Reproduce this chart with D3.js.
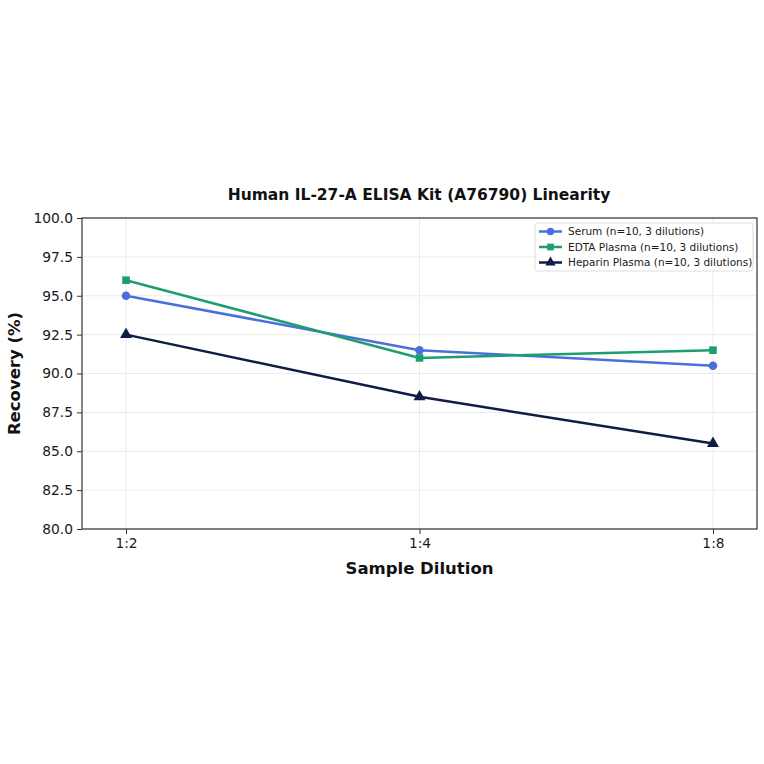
<!DOCTYPE html>
<html><head><meta charset="utf-8">
<script src="https://cdn.jsdelivr.net/npm/d3@7"></script>
<style>body{margin:0;background:#fff;} svg{display:block;font-family:"DejaVu Sans",sans-serif;}</style>
</head><body>
<svg id="c" width="764" height="764"></svg>
<script>
const categories = ["1:2", "1:4", "1:8"];
const serum = [95.0, 91.5, 90.5];
const edta = [96.0, 91.0, 91.5];
const heparin = [92.5, 88.5, 85.5];
const seriesNames = ["Serum (n=10, 3 dilutions)", "EDTA Plasma (n=10, 3 dilutions)", "Heparin Plasma (n=10, 3 dilutions)"];
const yTicks = [80.0, 82.5, 85.0, 87.5, 90.0, 92.5, 95.0, 97.5, 100.0];

const colors = ["#4a6fdc", "#1f9d72", "#0f1d45"];
const shapes = [d3.symbolCircle, d3.symbolSquare, d3.symbolTriangle];
const series = [serum, edta, heparin];

const svg = d3.select("#c");
const L = 82, R = 757, T = 218, B = 529;
const x = d3.scaleLinear().domain([-0.15, 2.15]).range([L, R]);
const y = d3.scaleLinear().domain([80, 100]).range([B, T]);

// grid
const g = svg.append("g");
g.selectAll(".gy").data(yTicks).enter().append("line")
  .attr("x1", L).attr("x2", R).attr("y1", d => y(d)).attr("y2", d => y(d))
  .attr("stroke", "#e6e6e6").attr("stroke-width", 0.8);
g.selectAll(".gx").data(categories).enter().append("line")
  .attr("x1", (d, i) => x(i)).attr("x2", (d, i) => x(i)).attr("y1", T).attr("y2", B)
  .attr("stroke", "#e6e6e6").attr("stroke-width", 0.8);

// axes
const yAxis = d3.axisLeft(y).tickValues(yTicks).tickFormat(d3.format(".1f")).tickSize(5).tickPadding(4);
const xAxis = d3.axisBottom(x).tickValues([0, 1, 2]).tickFormat(i => categories[i]).tickSize(5).tickPadding(4);
const ya = svg.append("g").attr("transform", `translate(${L},0)`).call(yAxis);
const xa = svg.append("g").attr("transform", `translate(0,${B})`).call(xAxis);
[ya, xa].forEach(a => {
  a.select(".domain").remove();
  a.selectAll("text").attr("font-size", 13.8).attr("fill", "#1a1a1a").attr("font-family", "DejaVu Sans");
  a.selectAll("line").attr("stroke", "#333").attr("stroke-width", 1);
});

// lines
const line = d3.line().x((d, i) => x(i)).y(d => y(d));
series.forEach((s, k) => {
  svg.append("path").datum(s).attr("d", line).attr("fill", "none")
    .attr("stroke", colors[k]).attr("stroke-width", 2.5);
  svg.selectAll(null).data(s).enter().append("path")
    .attr("d", d3.symbol().type(shapes[k]).size(k === 2 ? 62 : 58))
    .attr("transform", (d, i) => `translate(${x(i)},${y(d)})`)
    .attr("fill", colors[k]);
});

// frame
svg.append("rect").attr("x", L).attr("y", T).attr("width", R - L).attr("height", B - T)
  .attr("fill", "none").attr("stroke", "#333").attr("stroke-width", 1.2);

// legend
const lg = svg.append("g").attr("transform", "translate(535,223)");
lg.append("rect").attr("x", 0).attr("y", 0).attr("width", 218).attr("height", 48).attr("rx", 2.5)
  .attr("fill", "#fff").attr("fill-opacity", 0.85).attr("stroke", "#d6d6d6").attr("stroke-width", 0.8);
seriesNames.forEach((n, k) => {
  const yy = 8.5 + k * 15.5;
  lg.append("line").attr("x1", 4).attr("x2", 27).attr("y1", yy).attr("y2", yy)
    .attr("stroke", colors[k]).attr("stroke-width", 2.5);
  lg.append("path").attr("d", d3.symbol().type(shapes[k]).size(45)())
    .attr("transform", `translate(15.5,${yy})`).attr("fill", colors[k]);
  lg.append("text").attr("x", 33).attr("y", yy + 3.8).attr("font-size", 10.5).attr("fill", "#1a1a1a").text(n);
});

// title & labels
svg.append("text").attr("x", (L + R) / 2 - 0.5).attr("y", 200).attr("text-anchor", "middle")
  .attr("font-size", 15.5).attr("font-weight", "bold").attr("fill", "#111")
  .text("Human IL-27-A ELISA Kit (A76790) Linearity");
svg.append("text").attr("x", (L + R) / 2).attr("y", 574).attr("text-anchor", "middle")
  .attr("font-size", 16.5).attr("font-weight", "bold").attr("fill", "#111").text("Sample Dilution");
svg.append("text").attr("transform", `translate(20,${(T + B) / 2}) rotate(-90)`).attr("text-anchor", "middle")
  .attr("font-size", 16.5).attr("font-weight", "bold").attr("fill", "#111").text("Recovery (%)");
</script>
</body></html>
